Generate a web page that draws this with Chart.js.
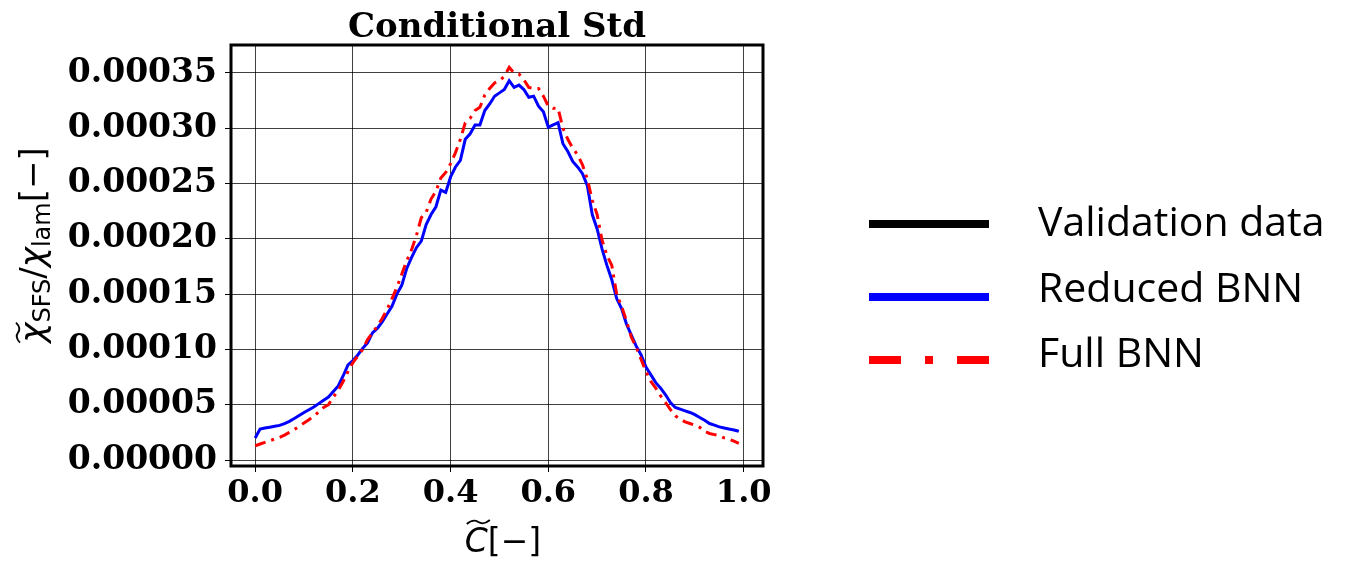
<!DOCTYPE html>
<html>
<head>
<meta charset="utf-8">
<script src="https://cdn.jsdelivr.net/npm/chart.js@4.4.1/dist/chart.umd.min.js"></script>
<style>
  html, body { margin: 0; padding: 0; background: #fff; }
  canvas { display: block; }
</style>
</head>
<body>
<canvas id="stdChart" width="1348" height="561"></canvas>
<script>
// progress variable C~ (x positions of the samples)
const cTilde = [
  0.00, 0.01, 0.02, 0.03, 0.04, 0.05, 0.06, 0.07, 0.08, 0.09,
  0.10, 0.11, 0.12, 0.13, 0.14, 0.15, 0.16, 0.17, 0.18, 0.19,
  0.20, 0.21, 0.22, 0.23, 0.24, 0.25, 0.26, 0.27, 0.28, 0.29,
  0.30, 0.31, 0.32, 0.33, 0.34, 0.35, 0.36, 0.37, 0.38, 0.39,
  0.40, 0.41, 0.42, 0.43, 0.44, 0.45, 0.46, 0.47, 0.48, 0.49,
  0.50, 0.51, 0.52, 0.53, 0.54, 0.55, 0.56, 0.57, 0.58, 0.59,
  0.60, 0.61, 0.62, 0.63, 0.64, 0.65, 0.66, 0.67, 0.68, 0.69,
  0.70, 0.71, 0.72, 0.73, 0.74, 0.75, 0.76, 0.77, 0.78, 0.79,
  0.80, 0.81, 0.82, 0.83, 0.84, 0.85, 0.86, 0.87, 0.88, 0.89,
  0.90, 0.91, 0.92, 0.93, 0.94, 0.95, 0.96, 0.97, 0.98, 0.99
];

const validationData = [];   // in legend only, not visible in this panel

const reducedBNN = [
  2.00e-5, 2.80e-5, 2.90e-5, 2.97e-5, 3.05e-5, 3.13e-5, 3.30e-5, 3.50e-5, 3.75e-5, 4.02e-5,
  4.30e-5, 4.55e-5, 4.80e-5, 5.10e-5, 5.40e-5, 5.70e-5, 6.20e-5, 6.70e-5, 7.60e-5, 8.60e-5,
  9.00e-5, 9.50e-5, 10.1e-5, 10.6e-5, 11.5e-5, 11.9e-5, 12.5e-5, 13.2e-5, 13.9e-5, 15.0e-5,
  15.8e-5, 17.3e-5, 18.3e-5, 19.2e-5, 19.8e-5, 21.3e-5, 22.2e-5, 22.9e-5, 24.4e-5, 24.2e-5,
  25.6e-5, 26.5e-5, 27.1e-5, 29.0e-5, 29.5e-5, 30.3e-5, 30.3e-5, 31.6e-5, 32.2e-5, 32.9e-5,
  33.2e-5, 33.5e-5, 34.3e-5, 33.7e-5, 33.9e-5, 33.5e-5, 32.8e-5, 32.9e-5, 32.0e-5, 31.5e-5,
  30.1e-5, 30.3e-5, 30.5e-5, 28.6e-5, 27.9e-5, 27.0e-5, 26.5e-5, 25.9e-5, 24.8e-5, 22.2e-5,
  20.9e-5, 19.1e-5, 17.6e-5, 16.3e-5, 14.6e-5, 13.7e-5, 12.3e-5, 11.3e-5, 10.3e-5, 9.50e-5,
  8.40e-5, 7.70e-5, 7.00e-5, 6.50e-5, 5.90e-5, 5.20e-5, 4.75e-5, 4.60e-5, 4.45e-5, 4.30e-5,
  4.10e-5, 3.85e-5, 3.60e-5, 3.30e-5, 3.15e-5, 3.00e-5, 2.90e-5, 2.80e-5, 2.72e-5, 2.60e-5
];

const fullBNN = [
  1.27e-5, 1.45e-5, 1.60e-5, 1.75e-5, 1.90e-5, 2.05e-5, 2.25e-5, 2.50e-5, 2.75e-5, 3.05e-5,
  3.35e-5, 3.65e-5, 3.95e-5, 4.35e-5, 4.75e-5, 5.00e-5, 5.70e-5, 6.30e-5, 7.10e-5, 8.00e-5,
  8.80e-5, 9.40e-5, 10.0e-5, 10.9e-5, 11.5e-5, 12.1e-5, 12.8e-5, 13.6e-5, 14.6e-5, 15.6e-5,
  16.8e-5, 18.0e-5, 19.0e-5, 20.3e-5, 21.9e-5, 22.4e-5, 23.6e-5, 24.3e-5, 25.5e-5, 26.0e-5,
  26.8e-5, 27.8e-5, 29.0e-5, 30.5e-5, 30.9e-5, 31.6e-5, 31.9e-5, 33.0e-5, 33.6e-5, 34.1e-5,
  34.3e-5, 34.7e-5, 35.5e-5, 35.0e-5, 34.9e-5, 34.4e-5, 33.7e-5, 33.6e-5, 33.6e-5, 32.9e-5,
  32.0e-5, 31.8e-5, 31.8e-5, 30.0e-5, 29.0e-5, 28.2e-5, 27.6e-5, 26.7e-5, 25.4e-5, 23.5e-5,
  22.2e-5, 19.9e-5, 18.5e-5, 17.6e-5, 15.0e-5, 13.9e-5, 12.6e-5, 11.1e-5, 10.2e-5, 9.10e-5,
  8.00e-5, 7.10e-5, 6.50e-5, 5.80e-5, 5.20e-5, 4.55e-5, 4.00e-5, 3.70e-5, 3.45e-5, 3.30e-5,
  3.15e-5, 2.95e-5, 2.60e-5, 2.40e-5, 2.30e-5, 2.20e-5, 2.00e-5, 1.90e-5, 1.70e-5, 1.50e-5
];

const xTicks = [0.0, 0.2, 0.4, 0.6, 0.8, 1.0];
const yTicks = [0, 0.00005, 0.00010, 0.00015, 0.00020, 0.00025, 0.00030, 0.00035];

const toPoints = ys => ys.map((y, i) => ({ x: cTilde[i], y: y }));

// wide tilde accent (mathtext \widetilde)
function tilde(ctx, x, y, w, h) {
  ctx.beginPath();
  ctx.moveTo(x, y + h * 0.4);
  ctx.bezierCurveTo(x + w * 0.25, y - h * 0.6, x + w * 0.4, y - h * 0.3, x + w * 0.5, y);
  ctx.bezierCurveTo(x + w * 0.6, y + h * 0.3, x + w * 0.75, y + h * 0.6, x + w, y - h * 0.4);
  ctx.stroke();
}

// draws pieces of math text in a row starting at x, baseline y
function mathRow(ctx, parts, x, y) {
  let cx = x;
  const spots = [];
  parts.forEach(p => {
    ctx.font = p.font;
    ctx.fillText(p.t, cx, y + (p.dy || 0));
    const w = ctx.measureText(p.t).width;
    spots.push({ x: cx, w: w });
    cx += w;
  });
  return spots;
}
function rowWidth(ctx, parts) {
  return parts.reduce((s, p) => { ctx.font = p.font; return s + ctx.measureText(p.t).width; }, 0);
}

const decorations = {
  id: 'decorations',
  afterDraw(chart) {
    const ctx = chart.ctx;
    const a = chart.chartArea;
    ctx.save();

    // frame
    ctx.strokeStyle = '#000';
    ctx.lineWidth = 3;
    ctx.strokeRect(a.left, a.top, a.right - a.left, a.bottom - a.top);

    ctx.fillStyle = '#000';
    ctx.textBaseline = 'alphabetic';
    ctx.textAlign = 'left';

    // title
    ctx.font = 'bold 34px "DejaVu Serif"';
    ctx.textAlign = 'center';
    ctx.fillText('Conditional Std', (a.left + a.right) / 2, 37);
    ctx.textAlign = 'left';

    // x axis label  C~[-]
    const xParts = [
      { t: 'C', font: 'italic 33px "DejaVu Sans"' },
      { t: '[\u2212]', font: '33px "DejaVu Sans"' }
    ];
    const xw = rowWidth(ctx, xParts);
    const xs = mathRow(ctx, xParts, (a.left + a.right) / 2 - xw / 2 + 6, 552);
    ctx.lineWidth = 1.8;
    tilde(ctx, xs[0].x + 2, 522, xs[0].w, 5);

    // y axis label  chi~_SFS / chi_lam [-]
    const yParts = [
      { t: '\u03c7', font: 'italic 34px "DejaVu Sans"' },
      { t: 'SFS', font: '24px "DejaVu Sans"', dy: 6 },
      { t: '/', font: '34px "DejaVu Sans"' },
      { t: '\u03c7', font: 'italic 34px "DejaVu Sans"' },
      { t: 'lam', font: '24px "DejaVu Sans"', dy: 6 },
      { t: '[\u2212]', font: '34px "DejaVu Sans"' }
    ];
    ctx.save();
    ctx.translate(36, 245);
    ctx.rotate(-Math.PI / 2);
    const yw = rowWidth(ctx, yParts);
    const ys = mathRow(ctx, yParts, -yw / 2, 8);
    ctx.lineWidth = 1.8;
    tilde(ctx, ys[0].x, -18, ys[0].w, 5);
    ctx.restore();

    // legend (outside the axes, to the right)
    const opts = chart.options.plugins.decorations;
    chart.data.datasets.forEach((ds, i) => {
      const row = opts.rows[i];
      ctx.strokeStyle = ds.borderColor;
      ctx.lineWidth = opts.lineWidth;
      ctx.setLineDash(opts.dashes[i]);
      ctx.beginPath();
      ctx.moveTo(opts.lineX0, row.line);
      ctx.lineTo(opts.lineX1, row.line);
      ctx.stroke();
      ctx.setLineDash([]);
      ctx.font = opts.font;
      ctx.fillStyle = '#000';
      ctx.fillText(ds.label, opts.textX, row.text);
    });
    ctx.restore();
  }
};

new Chart(document.getElementById('stdChart'), {
  type: 'line',
  data: {
    datasets: [
      {
        label: 'Validation data',
        data: toPoints(validationData),
        borderColor: '#000000',
        borderWidth: 3,
        order: 3
      },
      {
        label: 'Reduced BNN',
        data: toPoints(reducedBNN),
        borderColor: '#0000ff',
        borderWidth: 3,
        order: 2
      },
      {
        label: 'Full BNN',
        data: toPoints(fullBNN),
        borderColor: '#ff0000',
        borderWidth: 3,
        borderDash: [11, 6, 3, 6],
        order: 1
      }
    ]
  },
  options: {
    responsive: false,
    animation: false,
    layout: { padding: { left: 31, right: 585, top: 45, bottom: 35 } },
    elements: {
      point: { radius: 0 },
      line: { tension: 0, fill: false }
    },
    plugins: {
      legend: { display: false },
      title: { display: false },
      tooltip: { enabled: false },
      decorations: {
        lineX0: 869, lineX1: 989, lineWidth: 8, textX: 1038,
        font: '41px "Open Sans"',
        rows: [ { line: 224, text: 236 }, { line: 297, text: 302 }, { line: 360, text: 367 } ],
        dashes: [ [], [], [32, 24, 8, 24] ]
      }
    },
    scales: {
      x: {
        type: 'linear',
        min: -0.0495,
        max: 1.0395,
        afterBuildTicks: s => { s.ticks = xTicks.map(v => ({ value: v })); },
        afterFit: s => { s.height = 60; },
        border: { display: false },
        grid: { color: 'rgba(0,0,0,0.75)', lineWidth: 1, tickLength: 6, tickColor: '#000' },
        ticks: {
          color: '#000',
          padding: 2,
          maxRotation: 0,
          font: { family: '"DejaVu Serif"', weight: 'bold', size: 32 },
          callback: v => v.toFixed(1)
        }
      },
      y: {
        type: 'linear',
        min: -0.0000054,
        max: 0.0003753,
        afterBuildTicks: s => { s.ticks = yTicks.map(v => ({ value: v })); },
        afterFit: s => { s.width = 200; },
        border: { display: false },
        grid: { color: 'rgba(0,0,0,0.75)', lineWidth: 1, tickLength: 6, tickColor: '#000' },
        ticks: {
          color: '#000',
          padding: 8,
          font: { family: '"DejaVu Serif"', weight: 'bold', size: 33 },
          callback: v => v.toFixed(5)
        }
      }
    }
  },
  plugins: [decorations]
});
</script>
</body>
</html>
